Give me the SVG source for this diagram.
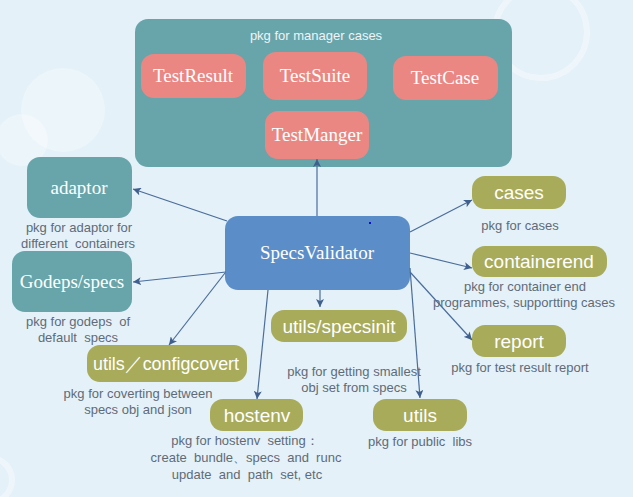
<svg xmlns="http://www.w3.org/2000/svg" width="633" height="497" viewBox="0 0 633 497">
<defs>
<style>
.bg{fill:#e4f1f8}
.deco{fill:#ffffff;opacity:0.3}
.ring{fill:none;stroke:#ffffff;stroke-width:6;opacity:0.4}
.teal{fill:#67a5ab}
.salmon{fill:#ea8783}
.blue{fill:#5b8ec8}
.olive{fill:#a8ab5a}
.serif{font-family:"Liberation Serif","Times New Roman",serif;font-size:19px;fill:#ffffff;text-anchor:middle}
.sans{font-family:"Liberation Sans",Arial,sans-serif;font-size:19px;fill:#ffffff;text-anchor:middle}
.cap{font-family:"Liberation Sans",Arial,sans-serif;font-size:13px;fill:#5f6b78;text-anchor:middle}
.title{font-family:"Liberation Sans",Arial,sans-serif;font-size:13px;fill:#eef4f6;text-anchor:middle}
.conn line{stroke:#4b6d9b;stroke-width:1.2;marker-end:url(#arr)}
</style>
<marker id="arr" markerWidth="9" markerHeight="8" refX="8" refY="4" orient="auto" markerUnits="userSpaceOnUse">
<path d="M0,0 L8,4 L0,8 L2,4 z" fill="#3f5f8f"/>
</marker>
</defs>
<rect class="bg" x="0" y="0" width="633" height="497"/>
<circle class="ring" cx="541" cy="32" r="46"/>
<circle class="deco" cx="63" cy="110" r="42"/>
<circle class="deco" cx="22" cy="140" r="26"/>
<circle class="ring" cx="-10" cy="480" r="22"/>

<g id="manager-pkg">
<rect class="teal" x="135" y="19" width="377" height="148" rx="13"/>
<text class="title" x="316" y="40">pkg for manager cases</text>
</g>
<g id="TestResult">
<rect class="salmon" x="141" y="54" width="105" height="44" rx="13"/>
<text class="serif" x="193" y="82">TestResult</text>
</g>
<g id="TestSuite">
<rect class="salmon" x="263" y="52" width="104" height="48" rx="13"/>
<text class="serif" x="315" y="82">TestSuite</text>
</g>
<g id="TestCase">
<rect class="salmon" x="393" y="56" width="105" height="44" rx="13"/>
<text class="serif" x="445" y="84">TestCase</text>
</g>
<g id="TestManger">
<rect class="salmon" x="265" y="111" width="104" height="48" rx="13"/>
<text class="serif" x="317" y="141">TestManger</text>
</g>

<g id="adaptor">
<rect class="teal" x="27" y="157" width="105" height="61" rx="13"/>
<text class="serif" x="79" y="194">adaptor</text>
<text class="cap" x="79" y="232">pkg for adaptor for</text>
<text class="cap" x="78" y="248" xml:space="preserve">different  containers</text>
</g>
<g id="Godeps-specs">
<rect class="teal" x="12" y="251" width="120" height="61" rx="13"/>
<text class="serif" x="72" y="288">Godeps/specs</text>
<text class="cap" x="78" y="326" xml:space="preserve">pkg for godeps  of</text>
<text class="cap" x="78" y="342" xml:space="preserve">default  specs</text>
</g>

<g id="SpecsValidator">
<rect class="blue" x="225" y="216" width="185" height="74" rx="13"/>
<text class="serif" x="317" y="259">SpecsValidator</text>
<rect x="369" y="222" width="2" height="2" fill="#1010d0"/>
</g>

<g id="cases">
<rect class="olive" x="472" y="176" width="94" height="33" rx="13"/>
<text class="sans" x="519" y="199">cases</text>
<text class="cap" x="520" y="230">pkg for cases</text>
</g>
<g id="containerend">
<rect class="olive" x="472" y="246" width="135" height="31" rx="13"/>
<text class="sans" x="539" y="268">containerend</text>
<text class="cap" x="525" y="291">pkg for container end</text>
<text class="cap" x="524" y="307">programmes, supportting cases</text>
</g>
<g id="report">
<rect class="olive" x="472" y="325" width="94" height="32" rx="13"/>
<text class="sans" x="519" y="348">report</text>
<text class="cap" x="520" y="372">pkg for test result report</text>
</g>
<g id="utils-specsinit">
<rect class="olive" x="271" y="310" width="136" height="32" rx="13"/>
<text class="sans" x="339" y="333">utils/specsinit</text>
<text class="cap" x="354" y="376">pkg for getting smallest</text>
<text class="cap" x="354" y="392">obj set from specs</text>
</g>
<g id="utils">
<rect class="olive" x="373" y="399" width="94" height="32" rx="13"/>
<text class="sans" x="420" y="422">utils</text>
<text class="cap" x="420" y="446" xml:space="preserve">pkg for public  libs</text>
</g>
<g id="utils-configcovert">
<rect class="olive" x="87" y="345" width="160" height="37" rx="13"/>
<text class="sans" x="166" y="370" textLength="146" lengthAdjust="spacingAndGlyphs">utils／configcovert</text>
<text class="cap" x="138" y="398">pkg for coverting between</text>
<text class="cap" x="138" y="414">specs obj and json</text>
</g>
<g id="hostenv">
<rect class="olive" x="210" y="399" width="93" height="32" rx="13"/>
<text class="sans" x="257" y="422">hostenv</text>
<text class="cap" x="245" y="445" xml:space="preserve">pkg for hostenv  setting：</text>
<text class="cap" x="246" y="462" xml:space="preserve">create  bundle、specs  and  runc</text>
<text class="cap" x="247" y="479" xml:space="preserve">update  and  path  set, etc</text>
</g>

<g id="connectors" class="conn">
<line x1="317" y1="216" x2="317" y2="159"/>
<line x1="227" y1="221" x2="133" y2="189"/>
<line x1="226" y1="272" x2="133" y2="282"/>
<line x1="225" y1="273" x2="169" y2="345"/>
<line x1="268" y1="290" x2="257" y2="399"/>
<line x1="320" y1="290" x2="320" y2="307"/>
<line x1="410" y1="268" x2="420" y2="398"/>
<line x1="410" y1="272" x2="472" y2="340"/>
<line x1="410" y1="253" x2="472" y2="268"/>
<line x1="410" y1="232" x2="472" y2="200"/>
</g>
</svg>
